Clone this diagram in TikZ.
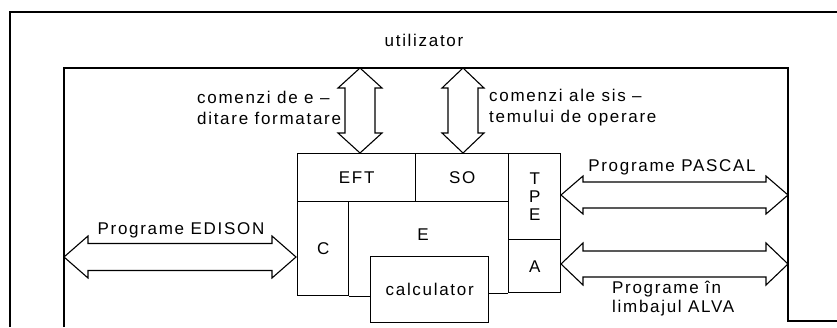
\documentclass[tikz,border=0pt]{standalone}
\usepackage{fontspec}
\setmainfont{Liberation Sans}[LetterSpace=10]
% horizontal outlined double arrow: x1, x2, y, head length, head half-height, shaft half-height
\newcommand\blockharrow[6]{%
  \draw[arrowline] (#1,#3) -- ({#1+#4},{#3-#5}) -- ({#1+#4},{#3-#6}) -- ({#2-#4},{#3-#6})
    -- ({#2-#4},{#3-#5}) -- (#2,#3) -- ({#2-#4},{#3+#5}) -- ({#2-#4},{#3+#6})
    -- ({#1+#4},{#3+#6}) -- ({#1+#4},{#3+#5}) -- cycle;}
% vertical outlined double arrow: x, y1, y2, head length, head half-width, shaft half-width
\newcommand\blockvarrow[6]{%
  \draw[arrowline] (#1,#2) -- ({#1+#5},{#2+#4}) -- ({#1+#6},{#2+#4}) -- ({#1+#6},{#3-#4})
    -- ({#1+#5},{#3-#4}) -- (#1,#3) -- ({#1-#5},{#3-#4}) -- ({#1-#6},{#3-#4})
    -- ({#1-#6},{#2+#4}) -- ({#1-#5},{#2+#4}) -- cycle;}
\tikzset{
  frame/.style={line width=1.4pt, line join=miter},
  arrowline/.style={line width=1.1pt, line join=miter},
  blk/.style={draw, line width=1.4pt, inner sep=0pt, anchor=north west},
  lbl/.style={inner sep=0pt},
}
\begin{document}
\begin{tikzpicture}[x=1pt, y=-1pt, every node/.style={font=\fontsize{17pt}{21pt}\selectfont}]
\useasboundingbox (0,0) rectangle (837,327);
% frames
\draw[frame] (10,327) -- (10,12) -- (837,12);
\draw[frame] (64,327) -- (64,68) -- (788,68) -- (788,321) -- (837,321);
\node[lbl] (util) at (424,40) {utilizator};
% central block
\node[blk, minimum width=118pt, minimum height=48pt] (EFT) at (297,153) {EFT};
\node[blk, minimum width=93pt, minimum height=48pt] (SO) at (415,153) {SO};
\node[blk, minimum width=52pt, minimum height=86pt, align=center,
      font=\fontsize{17pt}{18pt}\selectfont] (TPE) at (508,153) {T\\P\\E};
\node[blk, minimum width=52pt, minimum height=53pt] (A) at (508,239) {A};
\node[blk, minimum width=51pt, minimum height=94pt] (C) at (297,201) {C};
\node[blk, minimum width=118pt, minimum height=66pt, fill=white] (calc) at (370,256) {calculator};
\draw[frame] (C.south east) -- (C.south east -| calc.west);
\draw[frame] (calc.east |- A.south) -- (A.south west);
\node[lbl] (E) at (423,235) {E};
% vertical arrows
\blockvarrow{360}{68}{153}{20}{22}{15}
\blockvarrow{463}{68}{153}{20}{21}{15}
\node[lbl, align=left, anchor=west] (cmd1) at (197,108) {comenzi de e –\\ditare formatare};
\node[lbl, align=left, anchor=west] (cmd2) at (489,108) {comenzi ale sis –\\temului de operare};
% horizontal arrows
\blockharrow{64}{296}{257}{24}{21}{13.5}
\blockharrow{561}{788}{195}{22}{19}{13}
\blockharrow{561}{788}{264}{22}{21}{13}
\node[lbl] (edi) at (181,230) {Programe EDISON};
\node[lbl] (pas) at (672,167) {Programe PASCAL};
\node[lbl, align=left, anchor=west, font=\fontsize{17pt}{19pt}\selectfont] (alva) at (612,299) {Programe în\\limbajul ALVA};
\end{tikzpicture}
\end{document}
